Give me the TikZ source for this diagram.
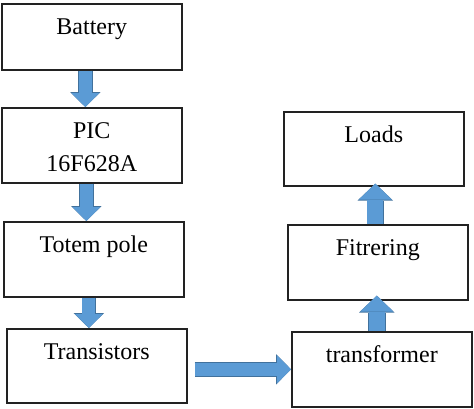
\documentclass[tikz,border=0pt]{standalone}
\usepackage{fontspec}
\setmainfont{Liberation Serif}
\usetikzlibrary{arrows.meta,calc}
\definecolor{arrowfill}{HTML}{5B9BD5}
\definecolor{arrowedge}{HTML}{41719C}
\definecolor{boxline}{HTML}{222222}
\tikzset{
  block/.style={draw=boxline, line width=1.6pt, anchor=north west, inner sep=0pt,
    minimum width=180pt, text height=30.5pt, text depth=44.5pt, align=center,
    font=\fontsize{24}{33.3}\selectfont},
  blockarrow/.style={draw=arrowfill, line width=13pt,
    -{Triangle[width=28pt,length=14pt,line width=0pt]},
    preaction={draw=arrowedge, line width=14.6pt,
      -{Triangle[width=30.6pt,length=15pt,line width=0pt]}}},
  wideblockarrow/.style={draw=arrowfill, line width=16pt,
    -{Triangle[width=33pt,length=16pt,line width=0pt]},
    preaction={draw=arrowedge, line width=17.6pt,
      -{Triangle[width=35.6pt,length=17pt,line width=0pt]}}}
}
\begin{document}
\begin{tikzpicture}[x=1pt,y=-1pt]
  \useasboundingbox (0,0) rectangle (474,408);
  % left column
  \node[block, text depth=35.5pt] (battery) at (1,3) {Battery};
  \node[block, text height=63.8pt, text depth=11.2pt] (pic) at (1,107) {PIC\\16F628A};
  \node[block] (totem) at (3,221) {Totem pole};
  \node[block, text depth=43.5pt] (transistors) at (6,328) {Transistors};
  % right column
  \node[block] (transformer) at (291,331) {transformer};
  \node[block] (fitrering) at (287,224) {Fitrering};
  \node[block, text depth=43.5pt] (loads) at (283,111) {Loads};
  % arrows
  \coordinate (s1) at ($(battery.south)+(-6.5,0)$);
  \coordinate (s2) at ($(pic.south)+(-5.5,0)$);
  \coordinate (s3) at ($(totem.south)+(-5,0)$);
  \coordinate (s4) at ($(transistors.east |- transformer.west)+(7,0)$);
  \coordinate (s5) at ($(transformer.north)+(-5,0)$);
  \coordinate (s6) at ($(fitrering.north)+(-2.5,0)$);
  \draw[blockarrow] (s1) -- (s1 |- pic.north);
  \draw[blockarrow] (s2) -- (s2 |- totem.north);
  \draw[blockarrow] (s3) -- (s3 |- transistors.north);
  \draw[blockarrow] (s4) -- (transformer.west);
  \draw[wideblockarrow] (s5) -- ($(s5 |- fitrering.south)+(0,-5)$);
  \draw[wideblockarrow] (s6) -- ($(s6 |- loads.south)+(0,-3)$);
\end{tikzpicture}
\end{document}
